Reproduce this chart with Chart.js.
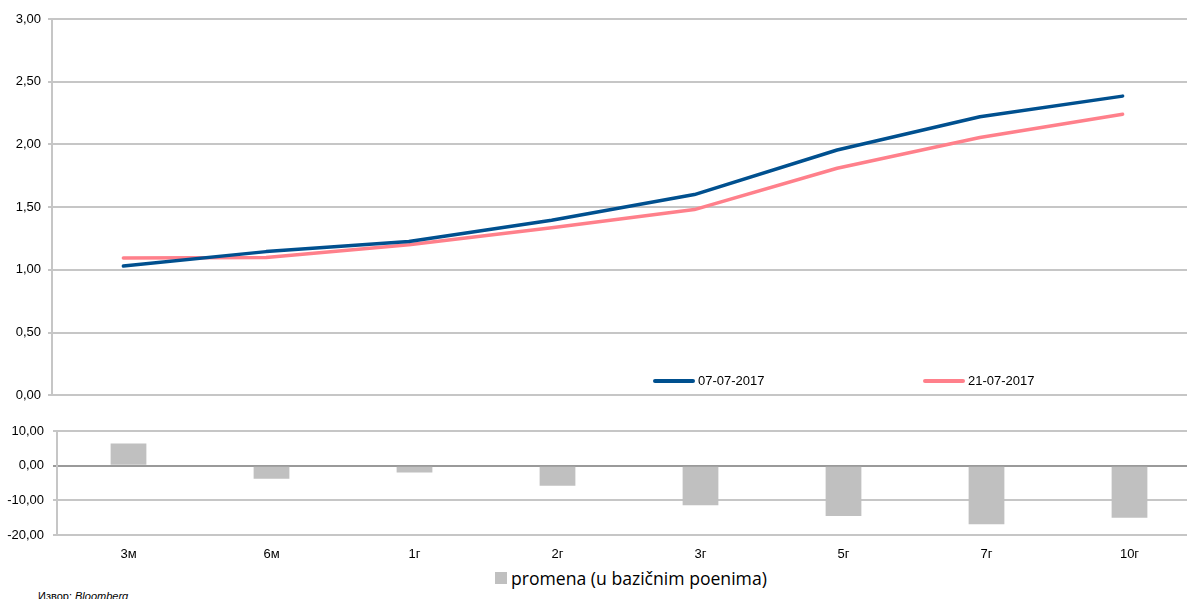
<!DOCTYPE html>
<html>
<head>
<meta charset="utf-8">
<script src="https://cdn.jsdelivr.net/npm/chart.js@4.4.0/dist/chart.umd.min.js"></script>
<style>
  html, body { margin: 0; padding: 0; background: #fff; overflow: hidden; width: 1187px; height: 599px; }
  #wrap { position: relative; width: 1187px; height: 599px; overflow: hidden; font-family: "Liberation Sans", Arial, sans-serif; }
  canvas { position: absolute; left: 0; }
  .lg { position: absolute; font-size: 13px; color: #000; line-height: 16px; white-space: nowrap; }
  .sw { position: absolute; height: 4px; border-radius: 2px; }
</style>
</head>
<body>
<div id="wrap">
  <canvas id="top" width="1200" height="410" style="top:0"></canvas>
  <canvas id="bot" width="1205" height="165" style="top:400px"></canvas>
  <div class="sw" style="left:653px; top:379px; width:42px; background:#00508f;"></div>
  <div class="lg" style="left:698px; top:373px;">07-07-2017</div>
  <div class="sw" style="left:923px; top:379px; width:42px; background:#ff808b;"></div>
  <div class="lg" style="left:968px; top:373px;">21-07-2017</div>
  <div style="position:absolute; left:495px; top:572px; width:12px; height:12px; background:#c0c0c0;"></div>
  <div class="lg" style="left:511px; top:567px; font-size:17.6px; line-height:22px; font-family:'Open Sans','Liberation Sans',sans-serif;">promena (u bazičnim poenima)</div>
  <div class="lg" style="left:38px; top:589px; font-size:11px; line-height:14px;">Извор: <i>Bloomberg</i></div>
</div>
<script>
const categories = ["3м", "6м", "1г", "2г", "3г", "5г", "7г", "10г"];
const series1Label = "07-07-2017";
const series1 = [1.03, 1.145, 1.225, 1.395, 1.60, 1.955, 2.22, 2.385];
const series2Label = "21-07-2017";
const series2 = [1.095, 1.098, 1.20, 1.335, 1.48, 1.81, 2.055, 2.24];
const changeLabel = "promena (u bazičnim poenima)";
const change = [6.4, -3.8, -2.0, -5.8, -11.4, -14.5, -16.9, -15.0];
const topTicks = [0, 0.5, 1, 1.5, 2, 2.5, 3];
const botTicks = [-20, -10, 0, 10];

const fmt = v => Number(v).toFixed(2).replace('.', ',');
const tickFont = { family: "'Liberation Sans', Arial, sans-serif", size: 13 };

new Chart(document.getElementById('top'), {
  type: 'line',
  data: {
    labels: categories,
    datasets: [
      { label: series1Label, data: series1, borderColor: '#00508f', borderWidth: 3.5, pointRadius: 0, tension: 0, borderCapStyle: 'round', borderJoinStyle: 'round' },
      { label: series2Label, data: series2, borderColor: '#ff808b', borderWidth: 3.5, pointRadius: 0, tension: 0, borderCapStyle: 'round', borderJoinStyle: 'round' }
    ]
  },
  options: {
    responsive: false, animation: false,
    layout: { padding: { top: 19, bottom: 10, left: 0, right: 6 } },
    plugins: { legend: { display: false }, tooltip: { enabled: false } },
    scales: {
      x: { type: 'category', offset: true, display: false },
      y: {
        min: 0, max: 3,
        afterBuildTicks: s => { s.ticks = topTicks.map(v => ({ value: v })); },
        afterFit: s => { s.width = 52; },
        ticks: { callback: v => fmt(v), color: '#000', font: tickFont, padding: 7 },
        grid: { color: '#c6c6c6', lineWidth: 2, tickLength: 4 },
        border: { color: '#c6c6c6', width: 2 }
      }
    }
  }
});

new Chart(document.getElementById('bot'), {
  type: 'bar',
  data: {
    labels: categories,
    datasets: [
      { label: changeLabel, data: change, backgroundColor: '#c0c0c0', borderWidth: 0, barPercentage: 0.5, categoryPercentage: 0.5 }
    ]
  },
  options: {
    responsive: false, animation: false,
    layout: { padding: { top: 31, bottom: 0, left: 0, right: 4 } },
    plugins: { legend: { display: false }, tooltip: { enabled: false } },
    scales: {
      x: {
        type: 'category', offset: true,
        afterFit: s => { s.height = 30; },
        grid: { display: false, drawTicks: false, tickLength: 0 },
        border: { display: false },
        ticks: { color: '#000', font: tickFont, padding: 12, maxRotation: 0 }
      },
      y: {
        min: -20, max: 10,
        afterBuildTicks: s => { s.ticks = botTicks.map(v => ({ value: v })); },
        afterFit: s => { s.width = 57; },
        ticks: { callback: v => fmt(v), color: '#000', font: tickFont, padding: 9 },
        grid: {
          color: c => (c.tick && c.tick.value === 0) ? '#9a9a9a' : '#c6c6c6',
          lineWidth: 2, tickLength: 4
        },
        border: { color: '#c6c6c6', width: 2 }
      }
    }
  }
});
</script>
</body>
</html>
